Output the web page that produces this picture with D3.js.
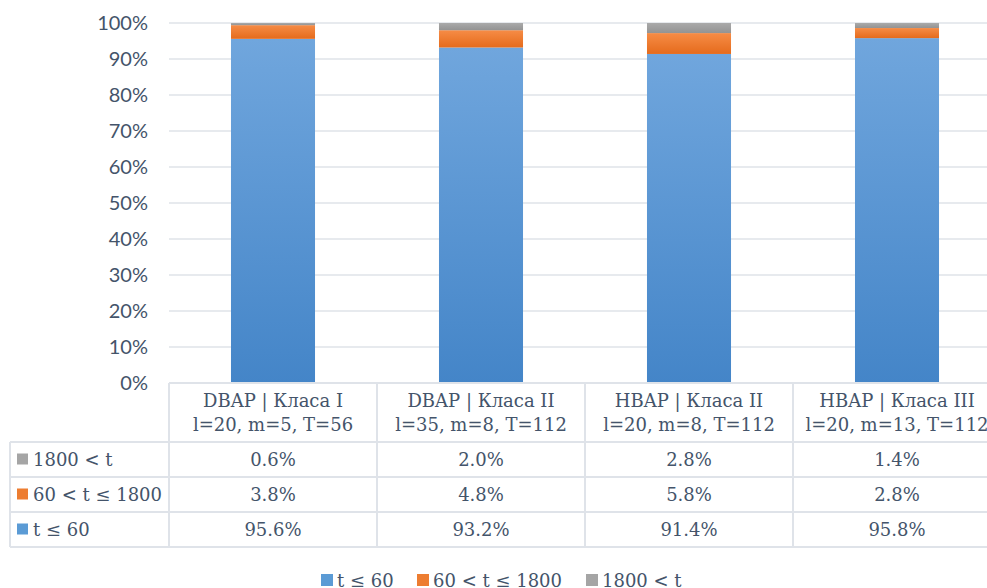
<!DOCTYPE html>
<html>
<head>
<meta charset="utf-8">
<script src="https://cdn.jsdelivr.net/npm/d3@7"></script>
<style>
  html, body { margin: 0; padding: 0; background: #fff; overflow: hidden; }
  svg { display: block; }
</style>
</head>
<body>
<svg id="chart" width="987" height="588"></svg>
<script>
// Stacked 100% bars with a data table underneath
const categories = ["DBAP | Класа I", "DBAP | Класа II", "HBAP | Класа II", "HBAP | Класа III"];
const subtitles = ["l=20, m=5, T=56", "l=35, m=8, T=112", "l=20, m=8, T=112", "l=20, m=13, T=112"];
const seriesNames = ["t ≤ 60", "60 < t ≤ 1800", "1800 < t"];
const fast = [95.6, 93.2, 91.4, 95.8];
const medium = [3.8, 4.8, 5.8, 2.8];
const slow = [0.6, 2.0, 2.8, 1.4];
const yTicks = [0, 10, 20, 30, 40, 50, 60, 70, 80, 90, 100];

const seriesValues = [fast, medium, slow];
const colorsTop = ["#70a6dd", "#f68c46", "#aaaaaa"];
const colorsBottom = ["#4485c8", "#e56b1c", "#939393"];
const legendColors = ["#5b9bd5", "#ed7d31", "#a5a5a5"];

const svg = d3.select("#chart");
const textColor = "#44546a";
const gridColor = "#dfe3e9";

const plotLeft = 169, plotRight = 1001, plotTop = 23, plotBottom = 383;

const x = d3.scaleBand().domain(categories).range([plotLeft, plotRight])
  .paddingInner(0.596).paddingOuter(0.298).align(0.5);
const xCol = d3.scaleBand().domain(categories).range([plotLeft, plotRight]);
const y = d3.scaleLinear().domain([0, 100]).range([plotBottom, plotTop]);

// gradients per series
const defs = svg.append("defs");
seriesNames.forEach((s, i) => {
  const g = defs.append("linearGradient").attr("id", "grad" + i)
    .attr("x1", 0).attr("y1", 0).attr("x2", 0).attr("y2", 1);
  g.append("stop").attr("offset", "0%").attr("stop-color", colorsTop[i]);
  g.append("stop").attr("offset", "100%").attr("stop-color", colorsBottom[i]);
});

// horizontal gridlines
svg.append("g").selectAll("line").data(yTicks.filter(t => t > 0)).join("line")
  .attr("x1", plotLeft).attr("x2", plotRight)
  .attr("y1", d => y(d)).attr("y2", d => y(d))
  .attr("stroke", gridColor).attr("stroke-width", 1.5);

// y axis labels
const yAxis = d3.axisLeft(y).tickValues(yTicks).tickFormat(d => d + "%").tickSize(0).tickPadding(0);
const yg = svg.append("g").attr("transform", `translate(148,0)`).call(yAxis);
yg.select(".domain").remove();
yg.selectAll("text").attr("fill", textColor)
  .style("font-family", "Lato, 'Open Sans', sans-serif").style("font-size", "20px");

// stacked bars
const table = categories.map((c, i) => ({ cat: c, s0: fast[i], s1: medium[i], s2: slow[i] }));
const stack = d3.stack().keys(["s0", "s1", "s2"]);
const layers = stack(table);
svg.append("g").selectAll("g").data(layers).join("g")
  .attr("fill", (d, i) => `url(#grad${i})`)
  .selectAll("rect").data(d => d).join("rect")
  .attr("x", d => x(d.data.cat))
  .attr("width", x.bandwidth())
  .attr("y", d => y(d[1]))
  .attr("height", d => y(d[0]) - y(d[1]));

// data table
const serif = "'DejaVu Serif', serif";
const fontSize = "18px";
const lineColor = "#dfe3e9";
const headerBottom = 442;
const rowH = 35;
const tableLeft = 10;
const rowOrder = [2, 1, 0]; // top row shows the last series
const tableBottom = headerBottom + rowH * rowOrder.length;

const tg = svg.append("g");
// header borders
tg.append("line").attr("x1", plotLeft).attr("x2", plotRight).attr("y1", plotBottom).attr("y2", plotBottom)
  .attr("stroke", lineColor).attr("stroke-width", 2);
// horizontal row lines
d3.range(rowOrder.length + 1).forEach(r => {
  tg.append("line").attr("x1", tableLeft).attr("x2", plotRight)
    .attr("y1", headerBottom + r * rowH).attr("y2", headerBottom + r * rowH)
    .attr("stroke", lineColor).attr("stroke-width", 2);
});
// vertical lines
tg.append("line").attr("x1", tableLeft).attr("x2", tableLeft).attr("y1", headerBottom).attr("y2", tableBottom)
  .attr("stroke", lineColor).attr("stroke-width", 2);
categories.concat([null]).forEach((c, i) => {
  const xx = c === null ? plotRight : xCol(c);
  tg.append("line").attr("x1", xx).attr("x2", xx).attr("y1", plotBottom).attr("y2", tableBottom)
    .attr("stroke", lineColor).attr("stroke-width", 2);
});

// header text
categories.forEach((c, i) => {
  const cx = xCol(c) + xCol.bandwidth() / 2;
  const t = tg.append("text").attr("x", cx).attr("text-anchor", "middle")
    .attr("fill", textColor).style("font-family", serif).style("font-size", fontSize);
  t.append("tspan").attr("x", cx).attr("y", 407).text(c);
  t.append("tspan").attr("x", cx).attr("y", 431).text(subtitles[i]);
});

// rows
rowOrder.forEach((s, r) => {
  const cy = headerBottom + r * rowH + rowH / 2;
  tg.append("rect").attr("x", 17).attr("y", cy - 6).attr("width", 11).attr("height", 11)
    .attr("fill", legendColors[s]);
  tg.append("text").attr("x", 33).attr("y", cy + 6.5).attr("fill", textColor)
    .style("font-family", serif).style("font-size", fontSize).text(seriesNames[s]);
  tg.selectAll(null).data(seriesValues[s]).join("text")
    .attr("x", (d, i) => xCol(categories[i]) + xCol.bandwidth() / 2)
    .attr("y", cy + 6.5).attr("text-anchor", "middle").attr("fill", textColor)
    .style("font-family", serif).style("font-size", fontSize)
    .text(d => d.toFixed(1) + "%");
});

// legend
const legendX = [321, 417, 586];
const lg = svg.append("g");
seriesNames.forEach((s, i) => {
  lg.append("rect").attr("x", legendX[i]).attr("y", 574).attr("width", 12).attr("height", 12)
    .attr("fill", legendColors[i]);
  lg.append("text").attr("x", legendX[i] + 16).attr("y", 587).attr("fill", textColor)
    .style("font-family", serif).style("font-size", fontSize).text(s);
});
</script>
</body>
</html>
